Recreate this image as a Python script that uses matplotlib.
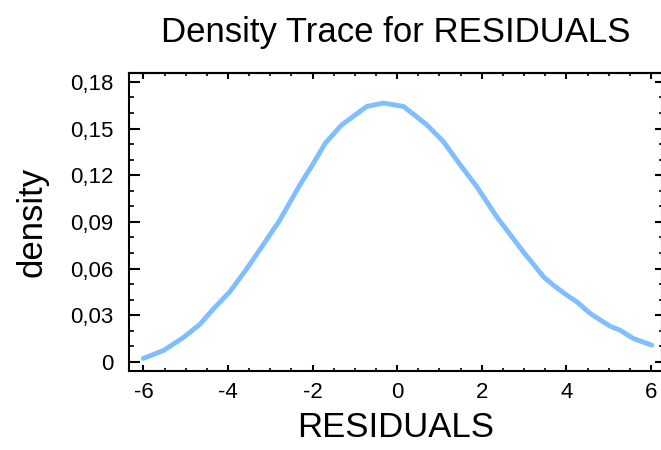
import matplotlib.pyplot as plt
from matplotlib.ticker import MultipleLocator

plt.rcParams['font.family'] = ['Liberation Sans', 'DejaVu Sans']

# density trace
residuals = [-6.0, -5.53, -5.06, -4.66, -4.35, -3.96, -3.57, -3.17, -2.78, -2.3,
             -1.98, -1.7, -1.31, -0.72, -0.33, 0.15, 0.7, 1.09, 1.49, 1.88,
             2.35, 2.59, 2.98, 3.14, 3.46, 3.69, 4.01, 4.25, 4.56, 5.03,
             5.27, 5.58, 6.02]
density = [0.0023, 0.0073, 0.0156, 0.0243, 0.034, 0.045, 0.0594, 0.0752, 0.091, 0.1138,
           0.1277, 0.1406, 0.1524, 0.1642, 0.1664, 0.1642, 0.1524, 0.1417, 0.1267, 0.1127,
           0.0934, 0.0848, 0.0708, 0.0655, 0.0547, 0.0494, 0.0429, 0.0386, 0.0312, 0.023,
           0.0204, 0.0151, 0.0108]

x_ticks = [-6, -4, -2, 0, 2, 4, 6]
y_ticks = [0, 0.03, 0.06, 0.09, 0.12, 0.15, 0.18]
y_labels = ['0', '0,03', '0,06', '0,09', '0,12', '0,15', '0,18']

fig = plt.figure(figsize=(6.61, 4.5), dpi=100)
ax = fig.add_axes([129 / 661, 79 / 450, 533 / 661, 298 / 450])

ax.plot(residuals, density, color='#80bfff', linewidth=3.5,
        solid_capstyle='round', solid_joinstyle='round')

ax.set_xlim(-6.34, 6.26)
ax.set_ylim(-0.0058, 0.1857)
ax.set_xticks(x_ticks)
ax.set_xticklabels([str(t) for t in x_ticks])
ax.set_yticks(y_ticks)
ax.set_yticklabels(y_labels)
ax.xaxis.set_minor_locator(MultipleLocator(0.5))
ax.yaxis.set_minor_locator(MultipleLocator(0.01))

for s in ax.spines.values():
    s.set_linewidth(1.5)

ax.tick_params(axis='y', which='major', direction='in', length=8, width=1.5, labelsize=16, pad=11)
ax.tick_params(axis='y', which='minor', direction='in', length=3.5, width=1.2)
ax.tick_params(axis='x', which='major', direction='in', length=4.5, width=1.5, labelsize=16, pad=8)
ax.tick_params(axis='x', which='minor', direction='in', length=2, width=1.2)

# shorter ticks on top and right
top = ax.secondary_xaxis('top')
top.set_xticks(x_ticks)
top.xaxis.set_minor_locator(MultipleLocator(0.5))
top.tick_params(which='major', direction='in', length=4, width=1.5, labeltop=False)
top.tick_params(which='minor', direction='in', length=2, width=1.2)
top.spines['top'].set_linewidth(1.5)

right = ax.secondary_yaxis('right')
right.set_yticks(y_ticks)
right.yaxis.set_minor_locator(MultipleLocator(0.01))
right.tick_params(which='major', direction='in', length=5, width=1.5, labelright=False)
right.tick_params(which='minor', direction='in', length=2, width=1.2)
right.spines['right'].set_linewidth(1.5)

ax.set_title('Density Trace for RESIDUALS', fontsize=25, pad=22)
ax.set_xlabel('RESIDUALS', fontsize=25, labelpad=6)
ax.set_ylabel('density', fontsize=25, labelpad=16)

fig.savefig('out.png', dpi=100)
